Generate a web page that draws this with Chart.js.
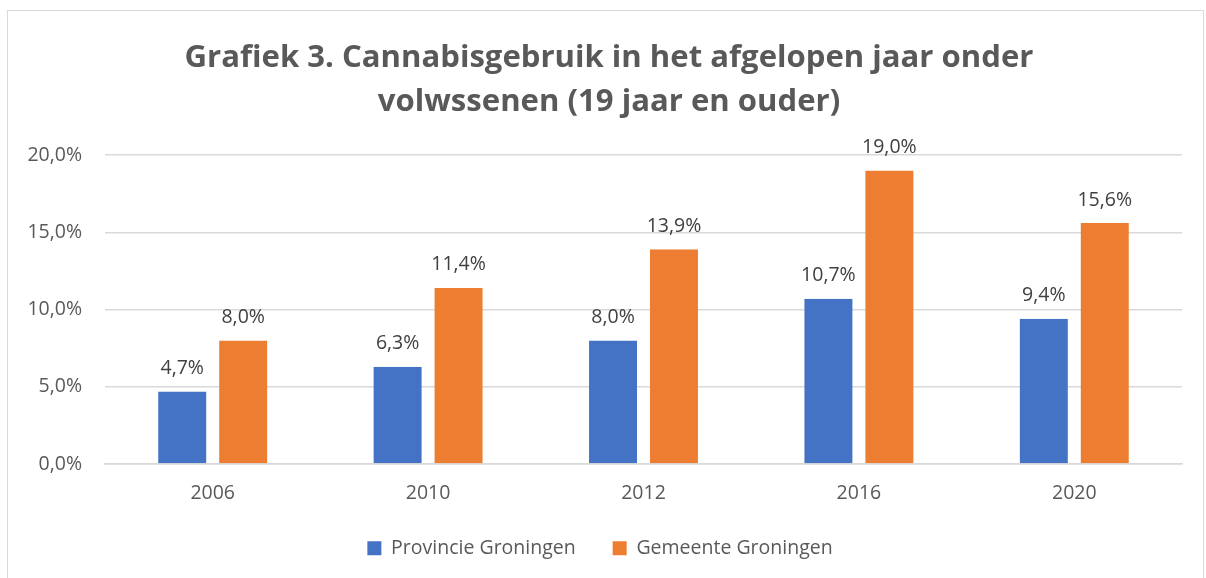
<!DOCTYPE html>
<html>
<head>
<meta charset="utf-8">
<script src="https://cdn.jsdelivr.net/npm/chart.js@4.4.0/dist/chart.umd.min.js"></script>
<style>
  html, body { margin: 0; padding: 0; background: #fff; overflow: hidden; }
  #frame {
    position: absolute; left: 7px; top: 10px;
    width: 1195px; height: 568px;
    border: 1px solid #d9d9d9; background: #fff;
  }
</style>
</head>
<body>
<div id="frame"><canvas id="chart" width="1195" height="568"></canvas></div>
<script>
// chart data
const years = ['2006', '2010', '2012', '2016', '2020'];
const provincie = [4.7, 6.3, 8.0, 10.7, 9.4];
const gemeente = [8.0, 11.4, 13.9, 19.0, 15.6];
const yTicks = [0, 5, 10, 15, 20];

const fmt = v => v.toFixed(1).replace('.', ',') + '%';
const FONT = '"Open Sans", "Noto Sans", sans-serif';

// draws the value above every bar
const valueLabels = {
    id: 'valueLabels',
    afterDatasetsDraw(chart) {
        const ctx = chart.ctx;
        ctx.save();
        ctx.font = '19.5px ' + FONT;
        ctx.fillStyle = '#404040';
        ctx.textAlign = 'center';
        ctx.textBaseline = 'middle';
        chart.data.datasets.forEach((ds, i) => {
            chart.getDatasetMeta(i).data.forEach((bar, j) => {
                ctx.fillText(fmt(ds.data[j]), bar.x, bar.y - 23);
            });
        });
        ctx.restore();
    }
};

// legend: wide spacing between items without a tall box,
// and title/legend nudged to the right like the original
const boxTweaks = {
    id: 'boxTweaks',
    afterInit(chart) {
        const lg = chart.legend;
        if (!lg) return;
        const fit = lg.fit.bind(lg);
        lg.fit = function() { fit(); this.height = 77.6; };
    },
    afterLayout(chart) {
        if (chart.titleBlock) { chart.titleBlock.left += 14; chart.titleBlock.right += 14; }
        if (chart.legend) { chart.legend.left += 5; chart.legend.right += 5; }
    }
};

new Chart(document.getElementById('chart'), {
    type: 'bar',
    data: {
        labels: years,
        datasets: [
            { label: 'Provincie Groningen', data: provincie, backgroundColor: '#4472C4',
              borderColor: 'rgba(0,0,0,0)', borderWidth: { left: 6.5, right: 6.5, top: 0, bottom: 0 } },
            { label: 'Gemeente Groningen', data: gemeente, backgroundColor: '#ED7D31',
              borderColor: 'rgba(0,0,0,0)', borderWidth: { left: 6.5, right: 6.5, top: 0, bottom: 0 } }
        ]
    },
    options: {
        responsive: false,
        animation: false,
        layout: { padding: { left: 0, right: 21, top: 0, bottom: 0 } },
        datasets: { bar: { categoryPercentage: 0.566, barPercentage: 1.0 } },
        scales: {
            x: {
                afterFit: s => { s.height = 37.4; },
                grid: { display: false, drawTicks: false },
                border: { display: true, color: '#d9d9d9', width: 1.5 },
                ticks: { color: '#595959', font: { family: FONT, size: 19.5 }, padding: 18 }
            },
            y: {
                min: 0, max: 20,
                afterFit: s => { s.width = 97; },
                afterBuildTicks: s => { s.ticks = yTicks.map(v => ({ value: v })); },
                grid: { color: '#d9d9d9', lineWidth: 1.5, drawTicks: false },
                border: { display: false },
                ticks: { color: '#595959', font: { family: FONT, size: 19.5 }, padding: 23,
                         callback: v => fmt(v) }
            }
        },
        plugins: {
            title: {
                display: true,
                text: ['Grafiek 3. Cannabisgebruik in het afgelopen jaar onder', 'volwssenen (19 jaar en ouder)'],
                color: '#595959',
                font: { family: FONT, size: 31.1, weight: 'bold', lineHeight: 1.415 },
                padding: { top: 25, bottom: 31 }
            },
            legend: {
                position: 'bottom',
                labels: { color: '#595959', font: { family: FONT, size: 19.5 },
                          boxWidth: 14, boxHeight: 14, padding: 37 }
            },
            tooltip: { enabled: false }
        }
    },
    plugins: [valueLabels, boxTweaks]
});
</script>
</body>
</html>
